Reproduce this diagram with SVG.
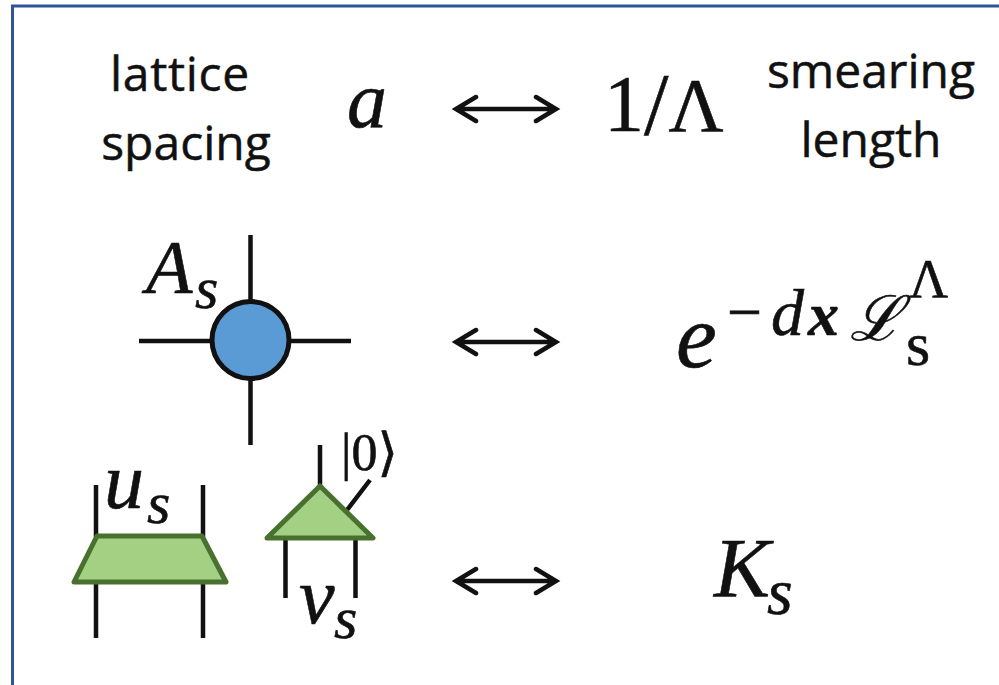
<svg xmlns="http://www.w3.org/2000/svg" width="999" height="685" viewBox="0 0 999 685">
<style>
.t{font-family:"Open Sans","Noto Sans","Liberation Sans",sans-serif;font-size:48px;fill:#111;stroke:#111;stroke-width:.5;text-anchor:middle}
.m{font-family:"Liberation Serif","DejaVu Serif",serif;fill:#111;stroke:#111;stroke-width:.6}
.i{font-style:italic}
.l{stroke:#111;stroke-width:4.500;fill:none}
.a{stroke:#111;stroke-width:4.500;fill:none;stroke-linecap:round;stroke-linejoin:miter}
.g{fill:#a3d083;stroke:#48712f;stroke-width:5;stroke-linejoin:round}
</style>
<defs>
<path id="arrow" class="a" d="M456 0H556M476-12L456 0L476 12M536-12L556 0L536 12"/>
</defs>
<rect x="12.500" y="6" width="990" height="690" fill="#fff" stroke="#2f5597" stroke-width="3"/>
<g id="connectors">
<use href="#arrow" y="109"/>
<use href="#arrow" y="342"/>
<use href="#arrow" y="581"/>
</g>
<g id="lattice-spacing">
<text class="t" x="180" y="91" letter-spacing=".7">lattice</text>
<text class="t" x="186" y="160">spacing</text>
</g>
<g id="a"><text class="m i" x="347" y="127" font-size="80">a</text></g>
<g id="one-over-lambda"><text class="m" x="604" y="131" font-size="80">1<tspan font-size="88" dy="3">/</tspan><tspan font-size="76" dy="-3">Λ</tspan></text></g>
<g id="smearing-length">
<text class="t" x="871" y="88">smearing</text>
<text class="t" x="871" y="157">length</text>
</g>
<g id="tensor-A">
<path class="l" d="M250.500 235V445M139 341H351"/>
<circle cx="250.500" cy="340" r="38.500" fill="#5b9bd5" stroke="#111" stroke-width="5"/>
<text class="m i" x="146" y="293" font-size="76">A</text>
<text class="m i" x="195" y="308" font-size="60">s</text>
</g>
<g id="exponent">
<text class="m i" x="676" y="367" font-size="92">e</text>
<text class="m" x="727" y="333" font-size="62">−</text>
<text class="m i" x="771" y="335" font-size="66">d</text>
<text class="m i" x="808" y="335" font-size="62" font-weight="bold">x</text>
<text class="m i" x="850" y="340" font-size="62" stroke-width="1.200">ℒ</text>
<text class="m" x="909" y="297" font-size="54">Λ</text>
<text class="m" x="906" y="365" font-size="62">s</text>
</g>
<g id="tensor-u">
<path class="l" d="M96 485V537M203 485V537M96 582V638M203 582V638"/>
<path class="g" d="M97 536H202L226 582H74Z"/>
<text class="m i" x="104" y="508" font-size="80">u</text>
<text class="m i" x="147" y="523" font-size="60">s</text>
</g>
<g id="tensor-v">
<path class="l" d="M320 445V486M285.500 540V598M355.500 540V598M347 510L370 480"/>
<path class="g" d="M320 486L373 538H267Z"/>
<text class="m i" x="299" y="623" font-size="80">v</text>
<text class="m i" x="334" y="638" font-size="60">s</text>
<text class="m" x="341" y="470" font-size="52" stroke-width="0">|0⟩</text>
</g>
<g id="K"><text class="m i" x="714" y="597" font-size="84">K</text>
<text class="m i" x="767" y="614" font-size="66">s</text></g>
</svg>
